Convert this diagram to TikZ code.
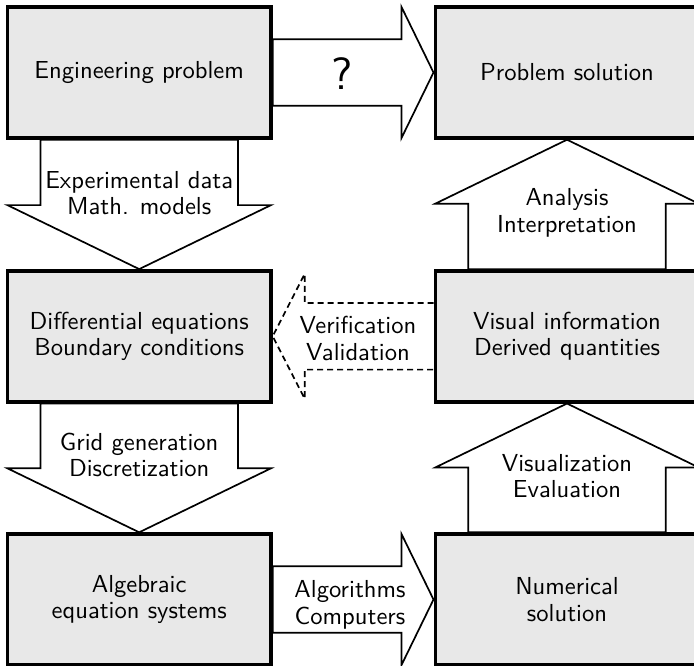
\documentclass[tikz,border=0pt]{standalone}
\usepackage{fontspec}
\setsansfont{lmsans10-regular.otf}
\usetikzlibrary{calc}
\definecolor{boxgray}{RGB}{232,232,232}
\pgfdeclarelayer{background}
\pgfsetlayers{background,main}
\begin{document}
\begin{tikzpicture}[x=0.5pt,y=-0.5pt,
  txt/.style={font=\sffamily\fontsize{12.3}{13.35}\selectfont, align=center},
  box/.style={txt, draw=black, line width=1.7pt, fill=boxgray,
    minimum width=131.8pt, minimum height=65.5pt, inner sep=0pt},
  lbl/.style={txt, inner sep=0pt},
  arrowshape/.style={draw=black, fill=white, line width=0.85pt, line join=miter},
  dasharrow/.style={arrowshape, dash pattern=on 3pt off 2pt}]
\useasboundingbox (0,0) rectangle (694,665);
\clip (0,0) rectangle (694,665);

% boxes
\node[box] (eng) at (139.2,72.5) {Engineering problem};
\node[box] (sol) at (567,72.5) {Problem solution};
\node[box] (diff) at (139.2,336.3) {Differential equations\\Boundary conditions};
\node[box] (vis) at (567,336.3) {Visual information\\Derived quantities};
\node[box] (alg) at (139.2,599.5) {Algebraic\\equation systems};
\node[box] (num) at (567,599.5) {Numerical\\solution};

\begin{pgfonlayer}{background}
% horizontal top arrow
\draw[arrowshape] ($(eng.east)+(0,-33.3)$) -- ($(sol.west)+(-32,-33.3)$) -- ($(sol.west)+(-32,-65.5)$)
  -- (sol.west) -- ($(sol.west)+(-32,65.5)$) -- ($(sol.west)+(-32,33.3)$) -- ($(eng.east)+(0,33.3)$) -- cycle;
% bottom horizontal arrow
\draw[arrowshape] ($(alg.east)+(0,-33.3)$) -- ($(num.west)+(-32,-33.3)$) -- ($(num.west)+(-32,-65.5)$)
  -- (num.west) -- ($(num.west)+(-32,65.5)$) -- ($(num.west)+(-32,33.3)$) -- ($(alg.east)+(0,33.3)$) -- cycle;
% dashed arrow back
\draw[dasharrow] ($(vis.west)+(0,-33.3)$) -- ($(diff.east)+(32,-33.3)$) -- ($(diff.east)+(32,-62.5)$)
  -- (diff.east) -- ($(diff.east)+(32,62.5)$) -- ($(diff.east)+(32,33.3)$) -- ($(vis.west)+(0,33.3)$);
% down arrows
\draw[arrowshape] ($(eng.south)+(-98.8,0)$) -- ($(diff.north)+(-98.8,-64)$) -- ($(diff.north)+(-131.8,-64)$)
  -- (diff.north) -- ($(diff.north)+(131.8,-64)$) -- ($(diff.north)+(98.8,-64)$) -- ($(eng.south)+(98.8,0)$) -- cycle;
\draw[arrowshape] ($(diff.south)+(-98.8,0)$) -- ($(alg.north)+(-98.8,-64)$) -- ($(alg.north)+(-131.8,-64)$)
  -- (alg.north) -- ($(alg.north)+(131.8,-64)$) -- ($(alg.north)+(98.8,-64)$) -- ($(diff.south)+(98.8,0)$) -- cycle;
% up arrows
\draw[arrowshape] ($(vis.north)+(-98.8,0)$) -- ($(sol.south)+(-98.8,64)$) -- ($(sol.south)+(-131.8,64)$)
  -- (sol.south) -- ($(sol.south)+(131.8,64)$) -- ($(sol.south)+(98.8,64)$) -- ($(vis.north)+(98.8,0)$) -- cycle;
\draw[arrowshape] ($(num.north)+(-98.8,0)$) -- ($(vis.south)+(-98.8,64)$) -- ($(vis.south)+(-131.8,64)$)
  -- (vis.south) -- ($(vis.south)+(131.8,64)$) -- ($(vis.south)+(98.8,64)$) -- ($(num.north)+(98.8,0)$) -- cycle;
\end{pgfonlayer}

% arrow labels
\node[lbl, font=\sffamily\fontsize{22.6}{26}\selectfont] (q) at (342.5,74) {?};
\node[lbl] (l1) at (139.2,193) {Experimental data\\Math. models};
\node[lbl] (l2) at (139.2,455) {Grid generation\\Discretization};
\node[lbl] (l3) at (567,213) {Analysis\\Interpretation};
\node[lbl] (l4) at (567,476) {Visualization\\Evaluation};
\node[lbl] (l5) at (358,338.5) {Verification\\Validation};
\node[lbl] (l6) at (350,605) {Algorithms\\Computers};
\end{tikzpicture}
\end{document}
